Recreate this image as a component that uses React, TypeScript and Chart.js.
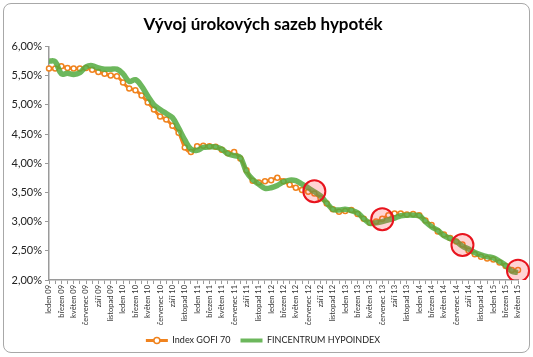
import { useEffect, useRef } from 'react';
import { Chart, registerables } from 'chart.js';
Chart.register(...registerables);

const monthNames = ['leden', 'únor', 'březen', 'duben', 'květen', 'červen', 'červenec', 'srpen', 'září', 'říjen', 'listopad', 'prosinec'];
const years = ['09', '10', '11', '12', '13', '14', '15'];
const lastMonthIndex = 4; // květen 15

const categories: string[] = [];
years.forEach((y, yi) => {
  monthNames.forEach((m, mi) => {
    if (yi === years.length - 1 && mi > lastMonthIndex) return;
    categories.push(`${m} ${y}`);
  });
});

const gofi70 = [
  5.62, 5.62, 5.66, 5.63, 5.62, 5.62, 5.63, 5.60, 5.56, 5.53,
  5.50, 5.49, 5.38, 5.28, 5.25, 5.16, 5.04, 4.92, 4.80, 4.75,
  4.64, 4.52, 4.27, 4.19, 4.29, 4.30, 4.29, 4.28, 4.23, 4.17,
  4.19, 4.08, 3.88, 3.70, 3.67, 3.69, 3.71, 3.75, 3.69, 3.63,
  3.58, 3.54, 3.51, 3.48, 3.40, 3.31, 3.21, 3.17, 3.18, 3.20,
  3.13, 3.05, 2.98, 3.00, 3.05, 3.11, 3.14, 3.14, 3.12, 3.13,
  3.11, 3.02, 2.94, 2.83, 2.78, 2.72, 2.66, 2.61, 2.50, 2.44,
  2.40, 2.37, 2.35, 2.30, 2.24, 2.17, 2.17,
];

const hypoindex = [
  5.75, 5.74, 5.53, 5.54, 5.52, 5.55, 5.65, 5.67, 5.63, 5.61,
  5.61, 5.61, 5.53, 5.40, 5.43, 5.32, 5.15, 5.00, 4.92, 4.85,
  4.78, 4.60, 4.40, 4.24, 4.22, 4.27, 4.28, 4.28, 4.24, 4.16,
  4.13, 4.10, 3.85, 3.72, 3.64, 3.57, 3.58, 3.62, 3.68, 3.71,
  3.70, 3.64, 3.58, 3.51, 3.44, 3.32, 3.21, 3.20, 3.21, 3.19,
  3.15, 3.05, 2.97, 2.98, 3.00, 3.03, 3.06, 3.10, 3.11, 3.11,
  3.10, 3.00, 2.91, 2.85, 2.76, 2.71, 2.66, 2.58, 2.53, 2.47,
  2.43, 2.40, 2.38, 2.32, 2.25, 2.15, 2.13,
];

const highlightIndex = [43, 54, 67, 76];
const highlightValues = [3.52, 3.04, 2.60, 2.16];

const seriesNames = ['Index GOFI 70', 'FINCENTRUM HYPOINDEX'];
const ORANGE = '#F0831E';
const GREEN = 'rgba(82,170,64,0.85)';
const FONT = 'Lato, "Open Sans", sans-serif';

const legendMarkers = {
  id: 'legendMarkers',
  afterDraw(chart: any) {
    const legend = chart.legend;
    if (!legend || !legend.legendHitBoxes) return;
    const ctx = chart.ctx;
    const boxes = legend.legendHitBoxes;
    const bw = 22;
    boxes.forEach((hb: any, i: number) => {
      const cy = hb.top + hb.height / 2;
      ctx.save();
      ctx.lineCap = 'butt';
      if (i === 0) {
        ctx.strokeStyle = ORANGE;
        ctx.lineWidth = 3;
        ctx.beginPath();
        ctx.moveTo(hb.left, cy);
        ctx.lineTo(hb.left + bw, cy);
        ctx.stroke();
        ctx.beginPath();
        ctx.arc(hb.left + bw / 2, cy, 3, 0, Math.PI * 2);
        ctx.fillStyle = '#fff';
        ctx.fill();
        ctx.lineWidth = 1.5;
        ctx.stroke();
      } else {
        ctx.strokeStyle = GREEN;
        ctx.lineWidth = 4;
        ctx.beginPath();
        ctx.moveTo(hb.left, cy);
        ctx.lineTo(hb.left + bw, cy);
        ctx.stroke();
      }
      ctx.restore();
    });
  },
};

export default function App() {
  const ref = useRef<HTMLCanvasElement | null>(null);

  useEffect(() => {
    if (!ref.current) return;
    const highlightData = categories.map((_, i) => {
      const k = highlightIndex.indexOf(i);
      return k >= 0 ? highlightValues[k] : null;
    });
    const chart = new Chart(ref.current, {
      type: 'line',
      data: {
        labels: categories,
        datasets: [
          {
            label: seriesNames[0],
            data: gofi70,
            borderColor: ORANGE,
            borderWidth: 3,
            backgroundColor: ORANGE,
            pointRadius: 2.5,
            pointBorderWidth: 1.5,
            pointBackgroundColor: '#ffffff',
            pointBorderColor: ORANGE,
            tension: 0.35,
            order: 3,
          },
          {
            label: seriesNames[1],
            data: hypoindex,
            borderColor: GREEN,
            borderWidth: 5.5,
            backgroundColor: GREEN,
            pointRadius: 0,
            tension: 0.35,
            order: 2,
          },
          {
            label: 'highlight',
            data: highlightData as any,
            showLine: false,
            pointRadius: 11,
            pointBorderWidth: 2,
            pointBorderColor: '#E8141E',
            pointBackgroundColor: 'rgba(255,60,60,0.22)',
            order: 1,
          },
        ],
      },
      options: {
        responsive: false,
        animation: false,
        events: [],
        layout: { padding: { left: 8, right: 15, top: 8, bottom: 2 } },
        plugins: {
          tooltip: { enabled: false },
          title: {
            display: true,
            text: 'Vývoj úrokových sazeb hypoték',
            color: '#000',
            font: { family: FONT, size: 17, weight: 'bold' },
            padding: { top: 6, bottom: 12 },
          },
          legend: {
            position: 'bottom',
            labels: {
              font: { family: FONT, size: 9 },
              color: '#222',
              boxWidth: 22,
              boxHeight: 4,
              padding: 10,
              generateLabels: () =>
                seriesNames.map((name, i) => ({
                  text: name,
                  fillStyle: 'rgba(0,0,0,0)',
                  strokeStyle: 'rgba(0,0,0,0)',
                  lineWidth: 0,
                  datasetIndex: i,
                  hidden: false,
                  fontColor: '#222',
                })),
            },
          },
        },
        scales: {
          x: {
            type: 'category',
            offset: false,
            grid: {
              display: true,
              drawOnChartArea: false,
              drawTicks: true,
              tickLength: 4,
              color: '#9a9a9a',
            },
            border: { display: true, color: '#9a9a9a', width: 1.5 },
            ticks: {
              autoSkip: false,
              maxRotation: 90,
              minRotation: 90,
              padding: 1,
              color: '#333',
              font: { family: FONT, size: 7.5 },
              callback: (_v: any, idx: number) => (idx % 2 === 0 ? categories[idx] : ''),
            },
            afterFit: (scale: any) => {
              scale.height = 46;
            },
          },
          y: {
            min: 2,
            max: 6,
            grid: {
              display: true,
              drawOnChartArea: false,
              drawTicks: true,
              tickLength: 4,
              color: '#9a9a9a',
            },
            border: { display: true, color: '#9a9a9a', width: 1.5 },
            ticks: {
              stepSize: 0.5,
              padding: 3,
              color: '#222',
              font: { family: FONT, size: 11 },
              callback: (v: any) => Number(v).toFixed(2).replace('.', ',') + '%',
            },
            afterFit: (scale: any) => {
              scale.width = 41;
            },
          },
        },
      },
      plugins: [legendMarkers],
    });
    return () => chart.destroy();
  }, []);

  return (
    <div style={{ position: 'fixed', left: 0, top: 0, width: 533, height: 357, background: '#fff' }}>
      <div
        style={{
          position: 'absolute',
          left: 3,
          top: 3,
          width: 527,
          height: 350,
          border: '1px solid #a8a8a8',
          borderRadius: 8,
          boxSizing: 'border-box',
        }}
      />
      <canvas ref={ref} width={533} height={357} style={{ position: 'absolute', left: 0, top: 0 }} />
    </div>
  );
}
